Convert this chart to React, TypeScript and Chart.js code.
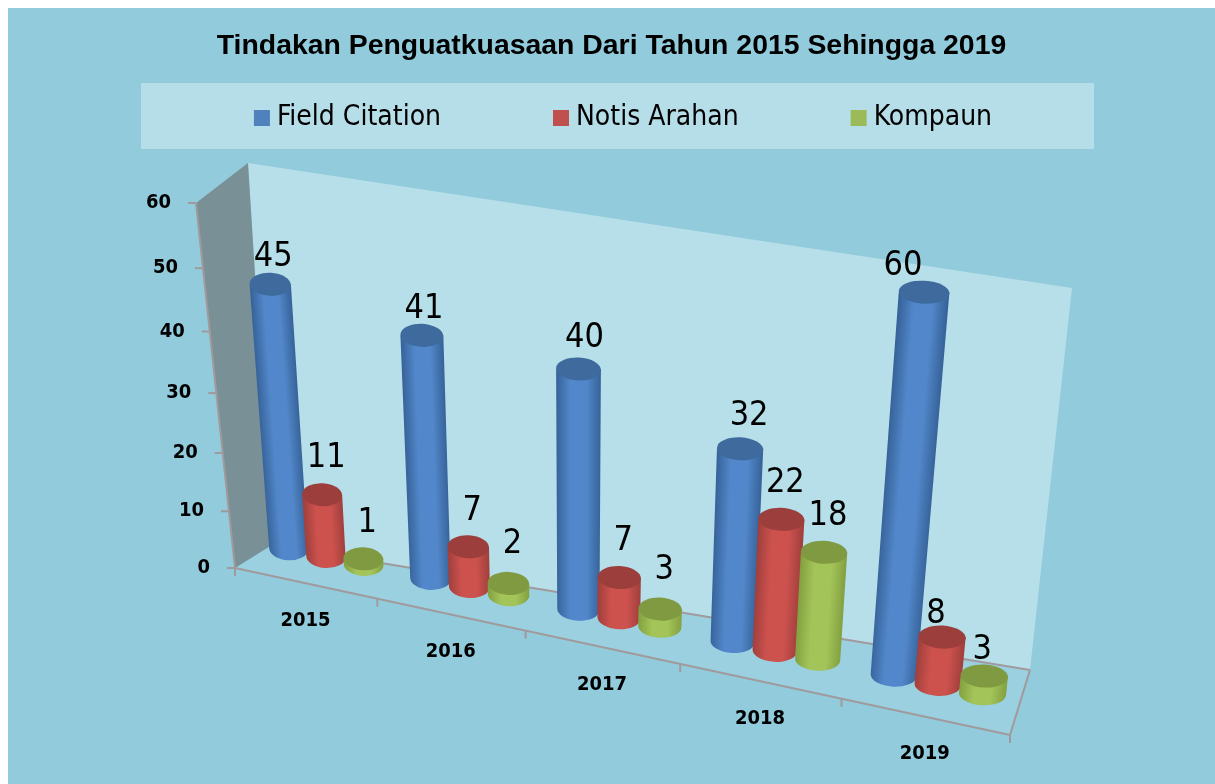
import React, { useEffect, useRef } from "react";
import { Chart, registerables } from "chart.js";

Chart.register(...registerables);

const years = ["2015", "2016", "2017", "2018", "2019"];
const fieldCitation = [45, 41, 40, 32, 60];
const notisArahan = [11, 7, 7, 22, 8];
const kompaun = [1, 2, 3, 18, 3];
const yTicks = [0, 10, 20, 30, 40, 50, 60];

const titleText = "Tindakan Penguatkuasaan Dari Tahun 2015 Sehingga 2019";
const uiFont = '"DejaVu Sans Condensed", "Noto Sans", sans-serif';

const CANVAS_OFFSET = 8;
const CANVAS_W = 1207;
const CANVAS_H = 776;

type Plane = { o: number[]; ux: number[]; vy: number[]; g: number; h: number };

// perspective planes of the 3D scene (page coordinates)
const barPlane: Plane = { o: [256.4, 542], ux: [1022, 702], vy: [228.6, 183], g: -0.1009, h: -0.08 };
const frontPlane: Plane = { o: [235, 568], ux: [1010, 735], vy: [196, 203], g: -0.1, h: -0.08 };

const project = (p: Plane, u: number, v: number) => {
  const w = 1 + p.g * u + p.h * v;
  const c = (i: number) =>
    (((1 + p.g) * p.ux[i] - p.o[i]) * u + ((1 + p.h) * p.vy[i] - p.o[i]) * v + p.o[i]) / w;
  return { x: c(0), y: c(1) };
};

const palette = [
  { legend: "#4f81bd", edge: "#37639a", mid: "#5288cb", top: "#3e6a9e" },
  { legend: "#c0504d", edge: "#a03f3c", mid: "#cd524e", top: "#9c3f3c" },
  { legend: "#9bbb59", edge: "#83a040", mid: "#a3c459", top: "#7f9a40" },
];

const labelNudge: Record<string, number[]> = {
  "0:0": [-1, 9],
  "0:1": [-2, 10],
  "0:2": [2, 5],
  "0:3": [5, 3],
  "0:4": [-25, 10],
  "1:4": [-10, 13],
  "2:1": [0, -3],
  "2:2": [0, -3],
  "2:4": [-6, 10],
};

const polygon = (ctx: CanvasRenderingContext2D, pts: number[][], fill: string) => {
  ctx.beginPath();
  pts.forEach((p, i) => (i ? ctx.lineTo(p[0], p[1]) : ctx.moveTo(p[0], p[1])));
  ctx.closePath();
  ctx.fillStyle = fill;
  ctx.fill();
};

const line = (ctx: CanvasRenderingContext2D, a: number[], b: number[]) => {
  ctx.beginPath();
  ctx.moveTo(a[0], a[1]);
  ctx.lineTo(b[0], b[1]);
  ctx.stroke();
};

const scenePlugin = {
  id: "scene3d",
  beforeDraw(chart: any) {
    const { ctx } = chart;
    ctx.save();
    ctx.fillStyle = "#92cbdc";
    ctx.fillRect(0, 0, CANVAS_W, CANVAS_H);
    ctx.translate(-CANVAS_OFFSET, -CANVAS_OFFSET);
    // legend band
    ctx.fillStyle = "#b6dee9";
    ctx.fillRect(141, 83, 953, 66);
    // walls and floor
    polygon(ctx, [[248, 163], [1072, 288], [1030, 670], [272, 545]], "#b6dfe9");
    polygon(ctx, [[235, 568], [272, 545], [1030, 670], [1010, 735]], "#9ad0e0");
    polygon(ctx, [[196, 203], [248, 163], [272, 545], [235, 568]], "#7a9097");
    ctx.strokeStyle = "#a09a9c";
    ctx.lineWidth = 2;
    line(ctx, [272, 545], [1030, 670]);
    line(ctx, [1030, 670], [1010, 735]);
    line(ctx, [196, 203], [235, 568]);
    const f0 = project(frontPlane, 0, 0);
    const f1 = project(frontPlane, 1, 0);
    line(ctx, [f0.x, f0.y], [f1.x, f1.y]);

    // value axis
    ctx.fillStyle = "#000";
    ctx.textAlign = "right";
    ctx.textBaseline = "middle";
    ctx.font = `bold 20px ${uiFont}`;
    const ys = chart.scales.y;
    ys.ticks.forEach((t: any) => {
      const v = (ys.bottom - ys.getPixelForValue(t.value)) / (ys.bottom - ys.top);
      const p = project(frontPlane, 0, v);
      line(ctx, [p.x - 8, p.y], [p.x, p.y]);
      ctx.fillText(String(t.value), p.x - 25, p.y);
    });

    // category axis
    const xs = chart.scales.x;
    const labels = xs.getLabels();
    const xw = xs.right - xs.left;
    labels.forEach((_: string, i: number) => {
      const u0 = i / labels.length;
      const p0 = project(frontPlane, u0, 0);
      line(ctx, [p0.x, p0.y], [p0.x, p0.y + 8]);
    });
    const pe = project(frontPlane, 1, 0);
    line(ctx, [pe.x, pe.y], [pe.x, pe.y + 8]);
    ctx.textAlign = "center";
    labels.forEach((label: string, i: number) => {
      const u = (xs.getPixelForValue(i) - xs.left) / xw;
      const p = project(frontPlane, u, 0);
      ctx.fillStyle = "#000";
      ctx.fillText(label, p.x, p.y + 37.5);
    });
    ctx.restore();
  },
  beforeDatasetDraw() {
    return false;
  },
  afterDatasetsDraw(chart: any) {
    const { ctx } = chart;
    const xs = chart.scales.x;
    const ys = chart.scales.y;
    const xw = xs.right - xs.left;
    const yh = ys.bottom - ys.top;
    const toU = (px: number) => (px - xs.left) / xw;
    const toV = (py: number) => (ys.bottom - py) / yh;
    ctx.save();
    ctx.translate(-CANVAS_OFFSET, -CANVAS_OFFSET);
    const n = chart.data.labels.length;
    for (let i = 0; i < n; i++) {
      chart.data.datasets.forEach((_: any, d: number) => {
        const el = chart.getDatasetMeta(d).data[i];
        const pal = palette[d];
        const u = toU(el.x);
        const du = el.width / xw / 2;
        const v = toV(el.y);
        const b = project(barPlane, u, 0);
        const t = project(barPlane, u, v);
        const rb = (project(barPlane, u + du, 0).x - project(barPlane, u - du, 0).x) / 2;
        const rt = (project(barPlane, u + du, v).x - project(barPlane, u - du, v).x) / 2;
        const ry = 11.5;
        const rot = 0.05;
        const mx = (b.x + t.x) / 2;
        const my = (b.y + t.y) / 2;
        const ax = t.x - b.x;
        const ay = t.y - b.y;
        const len = Math.hypot(ax, ay) || 1;
        const nx = -ay / len;
        const ny = ax / len;
        const rm = (rb + rt) / 2;
        const grad = ctx.createLinearGradient(mx + nx * rm, my + ny * rm, mx - nx * rm, my - ny * rm);
        grad.addColorStop(0, pal.edge);
        grad.addColorStop(0.32, pal.mid);
        grad.addColorStop(0.68, pal.mid);
        grad.addColorStop(1, pal.edge);
        // body
        ctx.beginPath();
        ctx.moveTo(t.x - rt, t.y);
        ctx.lineTo(b.x - rb, b.y);
        ctx.ellipse(b.x, b.y, rb, ry, rot, Math.PI, 0, true);
        ctx.lineTo(t.x + rt, t.y);
        ctx.closePath();
        ctx.fillStyle = grad;
        ctx.fill();
        // lid
        ctx.beginPath();
        ctx.ellipse(t.x, t.y, rt, ry, rot, 0, Math.PI * 2);
        ctx.fillStyle = pal.top;
        ctx.fill();
      });
    }
    // data labels
    ctx.fillStyle = "#000";
    ctx.textAlign = "center";
    ctx.textBaseline = "middle";
    ctx.font = `34px ${uiFont}`;
    chart.data.datasets.forEach((ds: any, d: number) => {
      chart.getDatasetMeta(d).data.forEach((el: any, i: number) => {
        const t = project(barPlane, toU(el.x), toV(el.y));
        const nudge = labelNudge[`${d}:${i}`] || [0, 0];
        ctx.fillText(String(ds.data[i]), t.x + 4 + nudge[0], t.y - 36 + nudge[1]);
      });
    });
    ctx.restore();
  },
};

const legendShiftPlugin = {
  id: "legendShift",
  afterLayout(chart: any) {
    const lg = chart.legend;
    const dx = 15;
    const targetTop = -23;
    const h = lg.bottom - lg.top;
    lg.left += dx;
    lg.right += dx;
    lg.top = targetTop;
    lg.bottom = targetTop + h;
  },
};

export default function App() {
  const ref = useRef<HTMLCanvasElement>(null);
  useEffect(() => {
    document.documentElement.style.overflow = "hidden";
    document.body.style.marginRight = "0";
    document.body.style.marginBottom = "0";
    const chart = new Chart(ref.current as HTMLCanvasElement, {
      type: "bar",
      data: {
        labels: years,
        datasets: [
          { label: "Field Citation", data: fieldCitation, backgroundColor: palette[0].legend, borderWidth: 0 },
          { label: "Notis Arahan", data: notisArahan, backgroundColor: palette[1].legend, borderWidth: 0 },
          { label: "Kompaun", data: kompaun, backgroundColor: palette[2].legend, borderWidth: 0 },
        ],
      },
      options: {
        responsive: false,
        animation: false,
        datasets: { bar: { categoryPercentage: 0.8, barPercentage: 1.05 } },
        plugins: {
          tooltip: { enabled: false },
          title: {
            display: true,
            text: titleText,
            color: "#000",
            font: { family: '"Liberation Sans", Arial, sans-serif', size: 28.4, weight: "bold" },
            padding: { top: 21, bottom: 10 },
          },
          legend: {
            display: true,
            position: "top",
            labels: {
              usePointStyle: true,
              pointStyle: "rect",
              boxWidth: 2,
              boxHeight: 16,
              padding: 119,
              color: "#000",
              font: { family: uiFont, size: 28 },
            },
          },
        },
        scales: {
          x: { display: false },
          y: {
            display: false,
            min: yTicks[0],
            max: yTicks[yTicks.length - 1],
            ticks: { stepSize: 10 },
          },
        },
      },
      plugins: [scenePlugin, legendShiftPlugin],
    } as any);
    return () => chart.destroy();
  }, []);
  return (
    <div style={{ position: "fixed", left: CANVAS_OFFSET, top: CANVAS_OFFSET, width: CANVAS_W, height: CANVAS_H }}>
      <canvas ref={ref} width={CANVAS_W} height={CANVAS_H} style={{ display: "block" }} />
    </div>
  );
}
